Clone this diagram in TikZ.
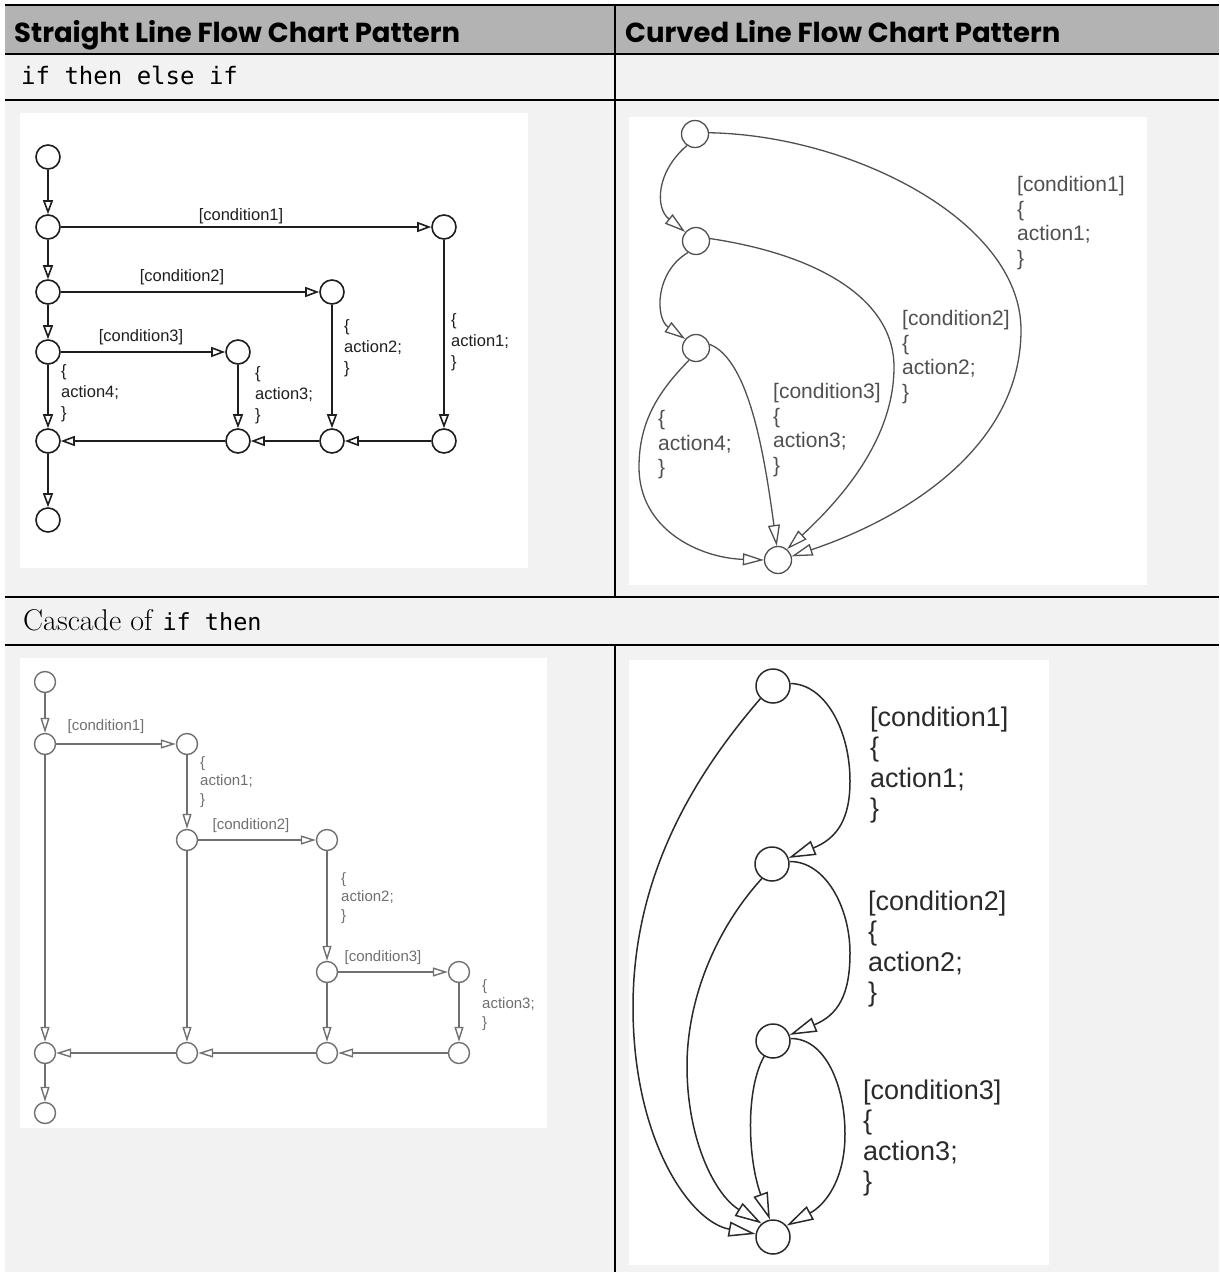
\documentclass[tikz,border=0pt]{standalone}
\usepackage{fontspec}
\usepackage{xcolor}
\usepackage{tikz}
\usetikzlibrary{arrows.meta, positioning, calc}
\setmonofont{DejaVu Sans Mono}
\newfontfamily\diagfont{Liberation Sans}
\newfontfamily\headfont{Poppins}
\definecolor{hdrgray}{HTML}{B3B3B3}
\definecolor{cellgray}{HTML}{F2F2F2}
\definecolor{inkA}{HTML}{1E1E1E}
\definecolor{inkB}{HTML}{505050}
\definecolor{inkC}{HTML}{707070}
\definecolor{inkD}{HTML}{2A2A2A}

\begin{document}
\begin{tikzpicture}[
          x=1pt, y=-1pt,
          rule/.style={line width=2.6pt, black},
          hdr/.style={font=\headfont\bfseries\fontsize{27.5}{30}\selectfont, inner sep=0pt, anchor=base west},
          cell/.style={font=\fontsize{30}{33}\selectfont, inner sep=0pt, anchor=base west},
          jA/.style={circle, draw=inkA, line width=1.6pt, fill=white, minimum size=24pt, inner sep=0pt},
          jB/.style={circle, draw=inkB, line width=1.3pt, fill=white, minimum size=27pt, inner sep=0pt},
          jC/.style={circle, draw=inkC, line width=1.4pt, fill=white, minimum size=21pt, inner sep=0pt},
          jD/.style={circle, draw=inkD, line width=1.5pt, fill=white, minimum size=34pt, inner sep=0pt},
          trA/.style={draw=inkA, line width=1.6pt, -{Triangle[open, length=14pt, width=10pt]}},
          trB/.style={draw=inkB, line width=1.3pt, -{Triangle[open, length=21pt, width=12pt]}},
          trC/.style={draw=inkC, line width=1.4pt, -{Triangle[open, length=15pt, width=9pt]}},
          trD/.style={draw=inkD, line width=1.5pt, -{Triangle[open, length=27pt, width=15pt]}},
          txA/.style={font=\diagfont\fontsize{16.5}{21}\selectfont, text=inkA, inner sep=0pt, align=left},
          txB/.style={font=\diagfont\fontsize{21}{24.5}\selectfont, text=inkB, inner sep=0pt, align=left},
          txC/.style={font=\diagfont\fontsize{15}{18.5}\selectfont, text=inkC, inner sep=0pt, align=left},
          txD/.style={font=\diagfont\fontsize{27}{30.5}\selectfont, text=inkD, inner sep=0pt, align=left}
        ]
          \useasboundingbox (0,0) rectangle (1219,1272);
          \fill[cellgray] (5,5) rectangle (1219,1272);
          \fill[hdrgray] (5,5) rectangle (1219,54);
          \draw[rule] (5,5) -- (1219,5);
          \draw[rule] (5,54) -- (1219,54);
          \draw[rule] (5,100) -- (1219,100);
          \draw[rule] (5,597) -- (1219,597);
          \draw[rule] (5,645) -- (1219,645);
          \draw[rule] (615,5) -- (615,597);
          \draw[rule] (615,645) -- (615,1272);

          \node[hdr] (h1) at (14,42) {Straight Line Flow Chart Pattern};
          \node[hdr] (h2) at (625,42) {Curved Line Flow Chart Pattern};
          \node[cell, font=\ttfamily\fontsize{24}{28}\selectfont] (r1) at (21,84) {if then else if};
          \node[cell] (r2) at (23,630) {Cascade of \texttt{\fontsize{23.5}{28}\selectfont if then}};

          \fill[white] (20,113) rectangle (528,568);
          \fill[white] (629,117) rectangle (1147,585);
          \fill[white] (20,658) rectangle (547,1128);
          \fill[white] (629,660) rectangle (1049,1265);

          \node[jA] (a0) at (48,157) {};
          \node[jA] (a1) at (48,227) {};
          \node[jA] (a2) at (48,292) {};
          \node[jA] (a3) at (48,352) {};
          \node[jA] (a4) at (48,441) {};
          \node[jA] (a5) at (48,520) {};
          \node[jA] (c1) at (444,227) {};
          \node[jA] (c2) at (332,292) {};
          \node[jA] (c3) at (238,352) {};
          \node[jA] (m1) at (444,441) {};
          \node[jA] (m2) at (332,441) {};
          \node[jA] (m3) at (238,441) {};
          \draw[trA] (a0) -- (a1);
          \draw[trA] (a1) -- (a2);
          \draw[trA] (a2) -- (a3);
          \draw[trA] (a3) -- (a4);
          \draw[trA] (a4) -- (a5);
          \draw[trA] (a1) -- (c1);
          \draw[trA] (a2) -- (c2);
          \draw[trA] (a3) -- (c3);
          \draw[trA] (c1) -- (m1);
          \draw[trA] (c2) -- (m2);
          \draw[trA] (c3) -- (m3);
          \draw[trA] (m1) -- (m2);
          \draw[trA] (m2) -- (m3);
          \draw[trA] (m3) -- (a4);
          \node[txA] (ta1) at (241,216) {[condition1]};
          \node[txA] (ta2) at (182,277) {[condition2]};
          \node[txA] (ta3) at (141,337) {[condition3]};
          \node[txA, anchor=west] (ua1) at (451,342) {\{\\action1;\\\}};
          \node[txA, anchor=west] (ua2) at (344,348) {\{\\action2;\\\}};
          \node[txA, anchor=west] (ua3) at (255,395) {\{\\action3;\\\}};
          \node[txA, anchor=west] (ua4) at (61,393) {\{\\action4;\\\}};

          \node[jB] (b0) at (695,134) {};
          \node[jB] (b1) at (696,241) {};
          \node[jB] (b2) at (696,348) {};
          \node[jB] (b3) at (778,560) {};
          \draw[trB] (b0.235) .. controls (656,172) and (655,208) .. (b1.140);
          \draw[trB] (b1.235) .. controls (655,272) and (655,318) .. (b2.140);
          \draw[trB] (b0.5) .. controls (850,135) and (1021,220) .. (1021,330)
                     .. controls (1021,450) and (900,520) .. (b3.15);
          \draw[trB] (b1.10) .. controls (820,255) and (894,300) .. (894,367)
                     .. controls (894,440) and (840,500) .. (b3.50);
          \draw[trB] (b2.15) .. controls (750,360) and (765,460) .. (b3.95);
          \draw[trB] (b2.240) .. controls (660,390) and (639,420) .. (639,467)
                     .. controls (639,530) and (700,558) .. (b3.180);
          \node[txB, anchor=west] (tb1) at (1017,223) {[condition1]\\\{\\action1;\\\}};
          \node[txB, anchor=west] (tb2) at (902,357) {[condition2]\\\{\\action2;\\\}};
          \node[txB, anchor=west] (tb3) at (773,430) {[condition3]\\\{\\action3;\\\}};
          \node[txB, anchor=west] (tb4) at (658,445) {\{\\action4;\\\}};

          \node[jC] (d0) at (45,682) {};
          \node[jC] (d1) at (45,744) {};
          \node[jC] (e1) at (187,744) {};
          \node[jC] (d2) at (187,840) {};
          \node[jC] (e2) at (327,840) {};
          \node[jC] (d3) at (327,972) {};
          \node[jC] (e3) at (459,972) {};
          \node[jC] (j0) at (45,1053) {};
          \node[jC] (j1) at (187,1053) {};
          \node[jC] (j2) at (327,1053) {};
          \node[jC] (j3) at (459,1053) {};
          \node[jC] (d4) at (45,1113) {};
          \draw[trC] (d0) -- (d1);
          \draw[trC] (d1) -- (e1);
          \draw[trC] (e1) -- (d2);
          \draw[trC] (d2) -- (e2);
          \draw[trC] (e2) -- (d3);
          \draw[trC] (d3) -- (e3);
          \draw[trC] (e3) -- (j3);
          \draw[trC] (d3) -- (j2);
          \draw[trC] (d2) -- (j1);
          \draw[trC] (d1) -- (j0);
          \draw[trC] (j3) -- (j2);
          \draw[trC] (j2) -- (j1);
          \draw[trC] (j1) -- (j0);
          \draw[trC] (j0) -- (d4);
          \node[txC] (tc1) at (106,727) {[condition1]};
          \node[txC] (tc2) at (251,826) {[condition2]};
          \node[txC] (tc3) at (383,958) {[condition3]};
          \node[txC, anchor=west] (uc1) at (200,782) {\{\\action1;\\\}};
          \node[txC, anchor=west] (uc2) at (341,898) {\{\\action2;\\\}};
          \node[txC, anchor=west] (uc3) at (482,1005) {\{\\action3;\\\}};

          \node[jD] (f0) at (773,686) {};
          \node[jD] (f1) at (772,864) {};
          \node[jD] (f2) at (773,1041) {};
          \node[jD] (f3) at (773,1237) {};
          \draw[trD] (f0.8) .. controls (825,684) and (850,730) .. (850,781)
                     .. controls (850,818) and (838,838) .. (f1.20);
          \draw[trD] (f1.8) .. controls (825,861) and (850,907) .. (850,953)
                     .. controls (850,995) and (838,1015) .. (f2.20);
          \draw[trD] (f2.8) .. controls (825,1038) and (845,1085) .. (845,1134)
                     .. controls (845,1180) and (825,1205) .. (f3.40);
          \draw[trD] (f2.240) .. controls (745,1090) and (748,1160) .. (f3.100);
          \draw[trD] (f1.235) .. controls (715,930) and (687,1000) .. (687,1066)
                     .. controls (687,1140) and (715,1195) .. (f3.130);
          \draw[trD] (f0.225) .. controls (690,780) and (633,880) .. (633,1007)
                     .. controls (633,1140) and (690,1222) .. (f3.170);
          \node[txD, anchor=west] (td1) at (870,765) {[condition1]\\\{\\action1;\\\}};
          \node[txD, anchor=west] (td2) at (868,949) {[condition2]\\\{\\action2;\\\}};
          \node[txD, anchor=west] (td3) at (863,1138) {[condition3]\\\{\\action3;\\\}};
        \end{tikzpicture}
\end{document}
